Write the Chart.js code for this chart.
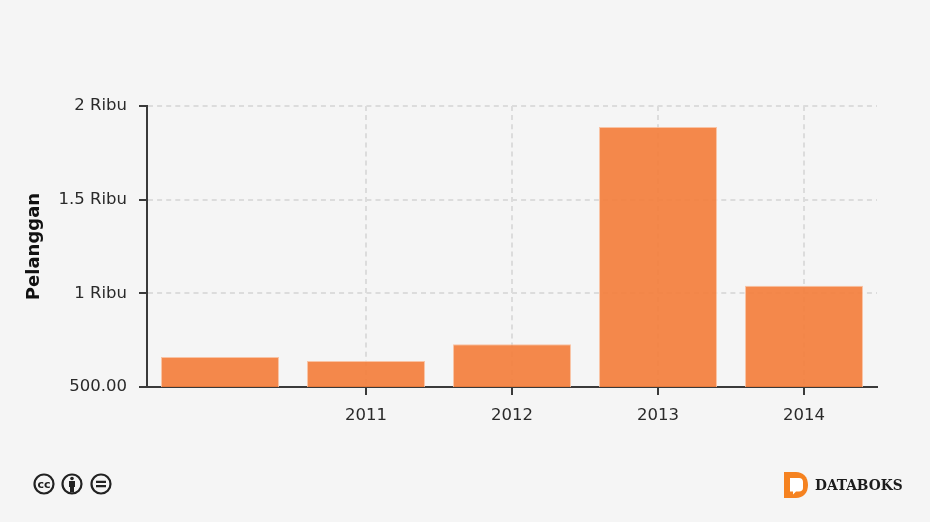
<!DOCTYPE html>
<html>
<head>
<meta charset="utf-8">
<script src="https://cdn.jsdelivr.net/npm/chart.js@4"></script>
<style>
  html, body { margin: 0; padding: 0; background: #f5f5f5; }
  #wrap { position: relative; width: 930px; height: 522px; overflow: hidden; }
  #chart { position: absolute; left: 0; top: 0; }
  .icons { position: absolute; left: 0; top: 460px; }
  .brand { position: absolute; left: 815px; top: 475px; font: bold 15.3px "DejaVu Serif Condensed", "DejaVu Serif", serif; color: #1c1c1c; line-height: 20px; }
</style>
</head>
<body>
<div id="wrap">
  <canvas id="chart" width="930" height="522"></canvas>
  <svg class="icons" width="130" height="50" viewBox="0 460 130 50" fill="none" stroke="#222">
    <circle cx="44" cy="484" r="9.5" stroke-width="2.2"/>
    <text x="44" y="488" text-anchor="middle" font-family="DejaVu Sans" font-weight="bold" font-size="11" fill="#222" stroke="none">cc</text>
    <circle cx="72" cy="484" r="9.5" stroke-width="2.2"/>
    <circle cx="72" cy="478.5" r="1.8" fill="#222" stroke="none"/>
    <path d="M69 481h6v6h-1v5.5h-4V487h-1z" fill="#222" stroke="none"/>
    <circle cx="101" cy="484" r="9.5" stroke-width="2.2"/>
    <path d="M96 480.8h10v2.2H96zM96 485h10v2.2H96z" fill="#222" stroke="none"/>
  </svg>
  <svg class="icons" style="left:780px;top:468px" width="32" height="34" viewBox="780 468 32 34">
    <path d="M784 472h12c7 0 12 5 12 13s-5 13-12 13h-12z" fill="#f58220"/>
    <path d="M790 478h9c2.500 0 4 1.500 4 4v6c0 2-1.500 3.500-4 3.500h-3l-3 3v-3h-3z" fill="#fff"/>
  </svg>
  <div class="brand">DATABOKS</div>
</div>
<script>
const categories = ['', '2011', '2012', '2013', '2014'];
const pelanggan  = [660, 639, 728, 1888, 1040];
const yTickValues = [500, 1000, 1500, 2000];
const yTickLabels = ['500.00', '1 Ribu', '1.5 Ribu', '2 Ribu'];

const AXIS = '#3a3a3a', GRID = '#dcdcdc', TEXT = '#2a2a2a';
const FONT = '"DejaVu Sans", sans-serif';

new Chart(document.getElementById('chart'), {
  type: 'bar',
  data: {
    labels: categories,
    datasets: [{
      data: pelanggan,
      backgroundColor: 'rgba(243,126,60,0.92)',
      borderColor: 'rgba(250,190,155,0.9)',
      borderWidth: 1,
      barPercentage: 0.808,
      categoryPercentage: 1,
    }]
  },
  options: {
    responsive: false,
    animation: false,
    layout: { padding: { top: 106, right: 53, bottom: 95, left: 24 } },
    plugins: { legend: { display: false }, tooltip: { enabled: false } },
    scales: {
      x: {
        offset: true,
        afterFit: s => { s.height = 40; },
        grid: {
          offset: false,
          color: ctx => ctx.index === 0 ? 'transparent' : GRID,
          tickColor: ctx => ctx.index === 0 ? 'transparent' : AXIS,
          tickLength: 8,
          tickWidth: 2,
          tickBorderDash: [],
          lineWidth: 2,
        },
        border: { color: AXIS, width: 2, dash: [5, 4.1] },
        ticks: { color: TEXT, font: { family: FONT, size: 16.500 }, padding: 11, maxRotation: 0, autoSkip: false },
      },
      y: {
        min: 500,
        max: 2000,
        afterFit: s => { s.width = 123; },
        afterBuildTicks: s => { s.ticks = yTickValues.map(v => ({ value: v })); },
        grid: { color: GRID, tickColor: AXIS, tickLength: 8, tickBorderDash: [], tickWidth: 2, lineWidth: 2 },
        border: { color: AXIS, width: 2, dash: [5, 4.1] },
        title: { display: true, text: 'Pelanggan', color: '#111', font: { family: FONT, size: 18, weight: 'bold' }, padding: { top: 0, bottom: 0 } },
        ticks: {
          color: TEXT, font: { family: FONT, size: 16.500 }, padding: 12,
          callback: v => yTickLabels[yTickValues.indexOf(v)],
        },
      },
    }
  }
});
</script>
</body>
</html>
